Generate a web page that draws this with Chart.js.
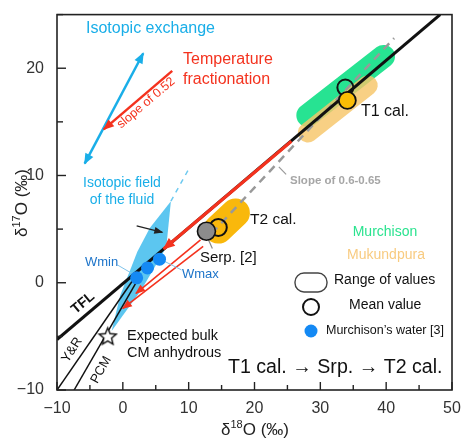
<!DOCTYPE html>
<html><head><meta charset="utf-8">
<script src="https://cdn.jsdelivr.net/npm/chart.js@4.4.1/dist/chart.umd.min.js"></script>
<style>html,body{margin:0;padding:0;background:#fff;}canvas{display:block}</style>
</head><body>
<canvas id="c" width="463" height="440"></canvas>
<script>
// ---------- data (δ18O, δ17O in ‰) ----------
const xTickValues = [-10, 0, 10, 20, 30, 40, 50];
const yTickValues = [-10, 0, 10, 20];
const tflLine = [[-10, -5.3], [48.2, 25]];
const yrLine = [[-10, -10], [1.6, 0.3]];
const pcmLine = [[-7.4, -10], [2.1, 0.1]];
const slopeLine = [[13.5, 4.6], [41.2, 22.8]];
const murchisonRange = [[28.1, 15.6], [39.6, 21.1]];
const mukundpuraRange = [[28.1, 14.0], [37.2, 18.4]];
const t2Range = [[14.5, 5.0], [17.1, 6.5]];
const fluidField = [[7.3, 7.6], [6.6, 3.3], [2.85, -0.64], [-1.7, -4.5], [-0.4, -1.2], [2.2, 2.9], [4.1, 5.1], [7.3, 7.6]];
const fluidDashed = [[7.3, 7.6], [10.1, 10.7]];
const tempArrowTFL = [[25.6, 13.2], [6.2, 3.15]];
const retroArrow1 = [[11.8, 4.0], [2.0, -1.0]];
const retroArrow2 = [[12.2, 3.4], [0.0, -2.4]];
const exchangeArrow = [[-5.8, 11.1], [3.1, 21.4]];
const tempArrow = [[7.5, 19.75], [-2.9, 14.3]];
const fieldPointer = [[2.1, 5.3], [6.0, 4.7]];
const wminLeader = [[-0.8, 1.65], [1.5, 0.83]];
const wmaxLeader = [[6.0, 2.1], [8.9, 1.2]];
const slopeLeader = [[23.7, 10.8], [24.8, 10.1]];
const serpLeader = [[13.0, 4.0], [13.6, 3.2]];
const murchisonMeanT1 = [[33.8, 18.2]];
const mukundpuraMeanT1 = [[34.1, 17.0]];
const serpentine = [[12.7, 4.8]];
const meanT2 = [[14.5, 5.15]];
const murchisonWater = [[2.1, 0.46], [3.75, 1.38], [5.57, 2.2]];
const bulkCM = [[-2.3, -4.95]];

// ---------- styles ----------
const RED = '#f4321e', CYAN = '#19aee8', FONT = "'Liberation Sans', Arial, Helvetica, sans-serif";
const fmt = v => v < 0 ? '\u2212' + Math.abs(v) : String(v);
const pts = a => a.map(p => ({x: p[0], y: p[1]}));

function starCanvas(size) {
  const c = document.createElement('canvas'); c.width = c.height = size;
  const g = c.getContext('2d'); const cx = size / 2, cy = size / 2 + 1, R = size / 2 - 1.5, r = R * 0.45;
  g.beginPath();
  for (let k = 0; k < 10; k++) { const a = -Math.PI / 2 + k * Math.PI / 5; const rr = k % 2 ? r : R; g.lineTo(cx + rr * Math.cos(a), cy + rr * Math.sin(a)); }
  g.closePath(); g.fillStyle = '#fff'; g.fill(); g.lineWidth = 1.4; g.strokeStyle = '#111'; g.stroke();
  return c;
}

const paint = []; // bottom -> top
function line(arr, o) { paint.push(Object.assign({data: pts(arr), pointRadius: 0, pointHoverRadius: 0, fill: false, tension: 0, borderWidth: 1.5, borderColor: '#111', backgroundColor: 'transparent'}, o)); }
function dots(arr, o) { paint.push(Object.assign({data: pts(arr), showLine: false, pointHoverRadius: 0, pointStyle: 'circle'}, o)); }

line(murchisonRange, {borderColor: 'rgba(32,226,142,0.97)', borderWidth: 23, borderCapStyle: 'round'});
line(mukundpuraRange, {borderColor: 'rgba(247,198,105,0.82)', borderWidth: 20, borderCapStyle: 'round'});
line(t2Range, {borderColor: '#f9b80c', borderWidth: 29, borderCapStyle: 'round'});
line(fluidField, {borderWidth: 0, borderColor: 'rgba(0,0,0,0)', fill: 'shape', backgroundColor: '#5cc6f0'});
line(fluidDashed, {borderColor: '#6fcaf0', borderWidth: 1.5, borderDash: [5, 5]});
line(slopeLine, {borderColor: '#999', borderWidth: 2.5, borderDash: [8, 6]});
line(slopeLeader, {borderColor: '#999', borderWidth: 1.2});
line(serpLeader, {borderColor: '#888', borderWidth: 1.2});
line(yrLine, {borderWidth: 1.5});
line(pcmLine, {borderWidth: 1.5});
line(tflLine, {borderWidth: 3});
line(tempArrowTFL, {borderColor: RED, borderWidth: 3.2, arrow: 'end', head: [11, 5]});
line(retroArrow1, {borderColor: RED, borderWidth: 1.6, arrow: 'end', head: [9, 4]});
line(retroArrow2, {borderColor: RED, borderWidth: 1.6, arrow: 'end', head: [9, 4]});
line(fieldPointer, {borderColor: '#222', borderWidth: 1.2, arrow: 'end', head: [8, 3.5]});
line(exchangeArrow, {borderColor: CYAN, borderWidth: 2.5, arrow: 'both', head: [10, 4.5]});
line(tempArrow, {borderColor: RED, borderWidth: 2.5, arrow: 'end', head: [10, 4.5]});
line(wminLeader, {borderColor: '#7fc3ea', borderWidth: 1});
line(wmaxLeader, {borderColor: '#7fc3ea', borderWidth: 1});
dots(meanT2, {pointRadius: 8.5, pointBackgroundColor: 'rgba(0,0,0,0)', pointBorderColor: '#111', pointBorderWidth: 2});
dots(serpentine, {pointRadius: 9, pointBackgroundColor: '#8c8c8c', pointBorderColor: '#111', pointBorderWidth: 1.6});
dots(murchisonMeanT1, {pointRadius: 8, pointBackgroundColor: 'rgba(0,0,0,0)', pointBorderColor: '#111', pointBorderWidth: 2});
dots(mukundpuraMeanT1, {pointRadius: 8.5, pointBackgroundColor: '#fbbc05', pointBorderColor: '#111', pointBorderWidth: 1.8});
dots(murchisonWater, {pointRadius: 6.5, pointBackgroundColor: '#1489f4', pointBorderColor: '#1489f4', pointBorderWidth: 0});
dots(bulkCM, {pointStyle: starCanvas(21), pointRadius: 10});
paint.forEach((d, i) => d.order = -i);

// ---------- annotation texts (pixel layout) ----------
const texts = [
  {t: 'Isotopic exchange', x: 86, y: 29, s: 16, c: CYAN},
  {t: 'Temperature', x: 183, y: 60, s: 16, c: RED},
  {t: 'fractionation', x: 183, y: 80, s: 16, c: RED},
  {t: 'slope of 0.52', x: 146, y: 103, s: 12.5, c: RED, a: 'center', r: -40.5},
  {t: 'Isotopic field', x: 122, y: 183, s: 14, c: CYAN, a: 'center'},
  {t: 'of the fluid', x: 122, y: 200, s: 14, c: CYAN, a: 'center'},
  {t: 'Wmin', x: 85, y: 262, s: 13, c: '#1d74c9'},
  {t: 'Wmax', x: 182, y: 274, s: 13, c: '#1d74c9'},
  {t: 'T2 cal.', x: 250, y: 220, s: 15.5, c: '#111'},
  {t: 'Serp. [2]', x: 200, y: 258, s: 15, c: '#111'},
  {t: 'T1 cal.', x: 361, y: 112, s: 16, c: '#111'},
  {t: 'Slope of 0.6-0.65', x: 290, y: 181, s: 11.5, c: '#a6a6a6', b: true},
  {t: 'Murchison', x: 385, y: 232, s: 14, c: '#2ae38f', a: 'center'},
  {t: 'Mukundpura', x: 386, y: 255, s: 14, c: '#f8cb80', a: 'center'},
  {t: 'Range of values', x: 334, y: 280, s: 14, c: '#111'},
  {t: 'Mean value', x: 349, y: 305, s: 14, c: '#111'},
  {t: 'Murchison\u2019s water [3]', x: 326, y: 331, s: 12.5, c: '#111'},
  {t: 'T1 cal. \u2192 Srp. \u2192 T2 cal.', x: 228, y: 368, s: 19.6, c: '#111'},
  {t: 'Expected bulk', x: 127, y: 336, s: 14.5, c: '#111'},
  {t: 'CM anhydrous', x: 127, y: 353, s: 14.5, c: '#111'},
  {t: 'TFL', x: 83, y: 303, s: 14, c: '#111', a: 'center', r: -40, b: true},
  {t: 'Y&R', x: 72, y: 350, s: 13, c: '#111', a: 'center', r: -57},
  {t: 'PCM', x: 101, y: 370, s: 13, c: '#111', a: 'center', r: -61}
];

const arrowPlugin = {
  id: 'arrows',
  afterDatasetsDraw(chart) {
    const ctx = chart.ctx;
    chart.data.datasets.forEach((ds, i) => {
      if (!ds.arrow) return;
      const p = chart.getDatasetMeta(i).data, n = p.length;
      const [L, W] = ds.head;
      const head = (tip, from) => {
        const dx = tip.x - from.x, dy = tip.y - from.y, d = Math.hypot(dx, dy), ux = dx / d, uy = dy / d;
        const bx = tip.x - ux * L, by = tip.y - uy * L;
        ctx.beginPath(); ctx.moveTo(tip.x + ux * 1, tip.y + uy * 1);
        ctx.lineTo(bx - uy * W, by + ux * W); ctx.lineTo(bx + uy * W, by - ux * W); ctx.closePath();
        ctx.fillStyle = ds.borderColor; ctx.fill();
      };
      ctx.save();
      if (ds.arrow === 'end' || ds.arrow === 'both') head(p[n - 1], p[n - 2]);
      if (ds.arrow === 'both') head(p[0], p[1]);
      ctx.restore();
    });
  }
};

const framePlugin = {
  id: 'frame',
  afterDraw(chart) {
    const ctx = chart.ctx, a = chart.chartArea, xs = chart.scales.x, ys = chart.scales.y;
    ctx.save();
    ctx.strokeStyle = '#222'; ctx.lineWidth = 1.6;
    ctx.strokeRect(a.left, a.top, a.right - a.left, a.bottom - a.top);
    ctx.lineWidth = 1.4;
    for (let v = -10; v <= 50; v += 5) {
      const px = xs.getPixelForValue(v), len = v % 10 === 0 ? 8 : 5;
      ctx.beginPath(); ctx.moveTo(px, a.bottom); ctx.lineTo(px, a.bottom - len); ctx.stroke();
    }
    for (let v = -10; v <= 25; v += 5) {
      const py = ys.getPixelForValue(v), len = v % 10 === 0 ? 9 : 6;
      ctx.beginPath(); ctx.moveTo(a.left, py); ctx.lineTo(a.left + len, py); ctx.stroke();
    }
    // legend symbols
    ctx.strokeStyle = '#444'; ctx.lineWidth = 1.4;
    const rx = 295, ry = 273, rw = 32, rh = 19, rr = 9;
    ctx.beginPath();
    ctx.moveTo(rx + rr, ry); ctx.lineTo(rx + rw - rr, ry); ctx.arc(rx + rw - rr, ry + rr, rr, -Math.PI / 2, 0);
    ctx.lineTo(rx + rw, ry + rh - rr); ctx.arc(rx + rw - rr, ry + rh - rr, rr, 0, Math.PI / 2);
    ctx.lineTo(rx + rr, ry + rh); ctx.arc(rx + rr, ry + rh - rr, rr, Math.PI / 2, Math.PI);
    ctx.lineTo(rx, ry + rr); ctx.arc(rx + rr, ry + rr, rr, Math.PI, Math.PI * 1.5); ctx.closePath(); ctx.stroke();
    ctx.strokeStyle = '#111'; ctx.lineWidth = 2;
    ctx.beginPath(); ctx.arc(311, 307, 8, 0, Math.PI * 2); ctx.stroke();
    ctx.fillStyle = '#1489f4'; ctx.beginPath(); ctx.arc(311, 331, 6.5, 0, Math.PI * 2); ctx.fill();
    // texts
    ctx.textBaseline = 'middle';
    texts.forEach(o => {
      ctx.save();
      ctx.font = (o.b ? 'bold ' : '') + o.s + 'px ' + FONT;
      ctx.fillStyle = o.c; ctx.textAlign = o.a || 'left';
      ctx.translate(o.x, o.y); if (o.r) ctx.rotate(o.r * Math.PI / 180);
      ctx.fillText(o.t, 0, 0); ctx.restore();
    });
    // axis titles: δ17O (‰), δ18O (‰)
    const title = (sup, cx, cy, rot) => {
      ctx.save(); ctx.translate(cx, cy); if (rot) ctx.rotate(rot);
      ctx.fillStyle = '#222'; ctx.textAlign = 'left'; ctx.textBaseline = 'alphabetic';
      const big = '17px ' + FONT, small = '11px ' + FONT;
      ctx.font = big; const w1 = ctx.measureText('\u03b4').width, w3 = ctx.measureText('O (\u2030)').width;
      ctx.font = small; const w2 = ctx.measureText(sup).width;
      let x = -(w1 + w2 + w3) / 2; const y = 6;
      ctx.font = big; ctx.fillText('\u03b4', x, y); x += w1;
      ctx.font = small; ctx.fillText(sup, x, y - 7); x += w2;
      ctx.font = big; ctx.fillText('O (\u2030)', x, y);
      ctx.restore();
    };
    title('18', 255, 429, 0);
    title('17', 21, 203, -Math.PI / 2);
    ctx.restore();
  }
};

new Chart(document.getElementById('c'), {
  type: 'line',
  data: {datasets: paint},
  options: {
    responsive: false, animation: false, devicePixelRatio: 1,
    layout: {padding: {left: 0, right: 9, top: 9, bottom: 0}},
    plugins: {legend: {display: false}, tooltip: {enabled: false}},
    events: [],
    scales: {
      x: {type: 'linear', min: -10, max: 50,
        grid: {display: false}, border: {display: false},
        afterFit: s => { s.height = 50; },
        ticks: {stepSize: 5, autoSkip: false, maxRotation: 0, padding: 1, color: '#333', font: {family: FONT, size: 16},
          callback: v => xTickValues.includes(v) ? fmt(v) : ''}},
      y: {type: 'linear', min: -10, max: 25,
        grid: {display: false}, border: {display: false},
        afterFit: s => { s.width = 57; },
        ticks: {stepSize: 5, autoSkip: false, padding: 5, color: '#333', font: {family: FONT, size: 16},
          callback: v => yTickValues.includes(v) ? fmt(v) : ''}}
    }
  },
  plugins: [arrowPlugin, framePlugin]
});
</script>
</body></html>
